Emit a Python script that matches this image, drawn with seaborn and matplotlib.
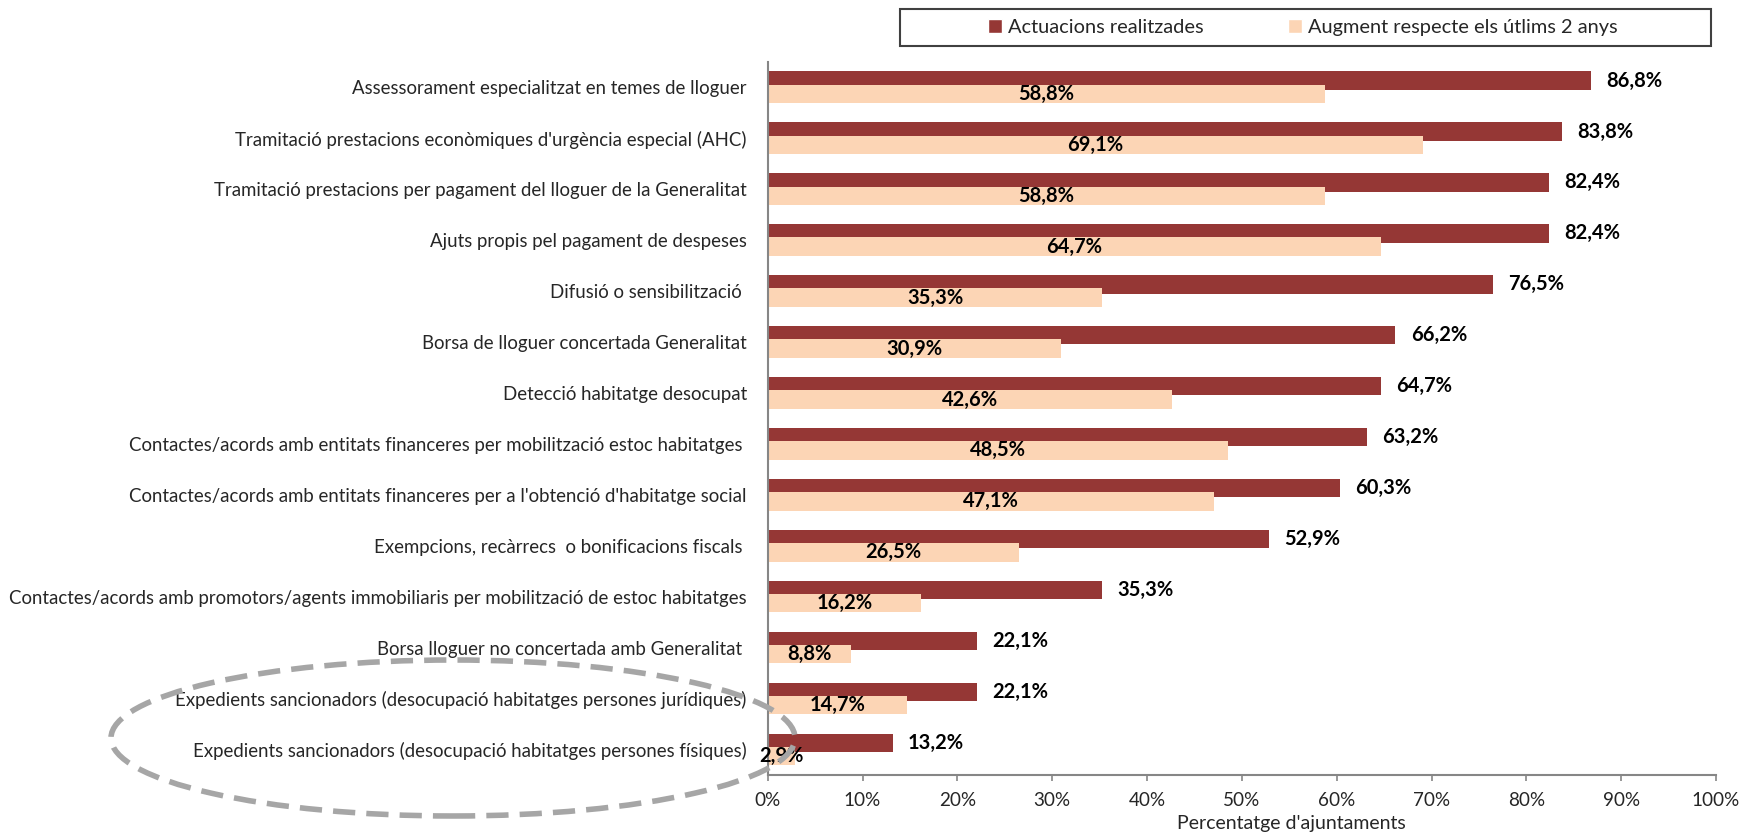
import numpy as np
import pandas as pd
import matplotlib.pyplot as plt
from matplotlib.patches import Ellipse, Rectangle
import seaborn as sns

# Data
categories = [
    "Assessorament especialitzat en temes de lloguer",
    "Tramitació prestacions econòmiques d'urgència especial (AHC)",
    "Tramitació prestacions per pagament del lloguer de la Generalitat",
    "Ajuts propis pel pagament de despeses",
    "Difusió o sensibilització ",
    "Borsa de lloguer concertada Generalitat",
    "Detecció habitatge desocupat",
    "Contactes/acords amb entitats financeres per mobilització estoc habitatges ",
    "Contactes/acords amb entitats financeres per a l'obtenció d'habitatge social",
    "Exempcions, recàrrecs  o bonificacions fiscals ",
    "Contactes/acords amb promotors/agents immobiliaris per mobilització de estoc habitatges",
    "Borsa lloguer no concertada amb Generalitat ",
    "Expedients sancionadors (desocupació habitatges persones jurídiques)",
    "Expedients sancionadors (desocupació habitatges persones físiques)",
]
actuacions = [86.8, 83.8, 82.4, 82.4, 76.5, 66.2, 64.7, 63.2, 60.3, 52.9, 35.3, 22.1, 22.1, 13.2]
augment = [58.8, 69.1, 58.8, 64.7, 35.3, 30.9, 42.6, 48.5, 47.1, 26.5, 16.2, 8.8, 14.7, 2.9]
series_names = ["Actuacions realitzades", "Augment respecte els útlims 2 anys"]
x_ticks = [0, 10, 20, 30, 40, 50, 60, 70, 80, 90, 100]

RED = "#953735"
PEACH = "#FCD5B5"
GRAY = "#868686"

df = pd.DataFrame({
    "cat": categories * 2,
    "val": actuacions + augment,
    "serie": [series_names[0]] * len(categories) + [series_names[1]] * len(categories),
})

sns.set_style("white")
plt.rcParams["font.family"] = ["Lato", "DejaVu Sans"]

W, H = 1741, 835
fig = plt.figure(figsize=(W / 100, H / 100), dpi=100)
ax = fig.add_axes([767.7 / W, 1 - 775 / H, (1716 - 767.7) / W, (775 - 61.7) / H])

sns.barplot(data=df, y="cat", x="val", hue="serie", orient="h",
            palette=[RED, PEACH], width=0.52, errorbar=None,
            saturation=1, ax=ax, order=categories, hue_order=series_names)

# overlap the two series slightly, like the original
for cont in ax.containers:
    for p in cont:
        c = p.get_y() + p.get_height() / 2
        p.set_height(0.36)
        p.set_y(c - 0.18)
        p.set_edgecolor("none")

fmt = lambda v: f"{v:.1f}%".replace(".", ",")
ax.bar_label(ax.containers[0], labels=[fmt(v) for v in actuacions],
             padding=11, fontsize=14.5, fontweight="bold", color="black")
ax.bar_label(ax.containers[1], labels=[fmt(v) for v in augment],
             label_type="center", fontsize=14.5, fontweight="bold", color="black")

handles, labels = ax.get_legend_handles_labels()
ax.get_legend().remove()

ax.set_xlim(0, 100)
ax.set_ylim(13.5, -0.5)
ax.set_xticks(x_ticks)
ax.set_xticklabels([f"{t}%" for t in x_ticks])
ax.set_xlabel("")
ax.set_ylabel("")
for s in ["top", "right"]:
    ax.spines[s].set_visible(False)
for s in ["left", "bottom"]:
    ax.spines[s].set_color(GRAY)
    ax.spines[s].set_linewidth(1.5)
ax.tick_params(axis="y", length=0, pad=15, labelsize=13.4)
ax.tick_params(axis="x", length=4, width=1.2, color=GRAY, pad=8, labelsize=13.6,
               bottom=True)

fig.text(1291 / W, 1 - 823 / H, "Percentatge d'ajuntaments", ha="center",
         va="center", fontsize=14)

# legend box
fig.patches.append(Rectangle((900 / W, 1 - 46 / H), 811 / W, 37 / H,
                             transform=fig.transFigure, fill=False,
                             edgecolor="#404040", linewidth=1.5))
fig.legend(handles, labels, loc="center left",
           bbox_to_anchor=(970 / W, 1 - 27.5 / H), ncol=2, frameon=False,
           fontsize=14.4, handlelength=0.7, handleheight=0.7,
           handletextpad=0.3, columnspacing=4.2)

# dashed highlight ellipse
fig.patches.append(Ellipse((453 / W, 1 - 738 / H), 684 / W, 156 / H,
                           transform=fig.transFigure, fill=False,
                           edgecolor="#A6A6A6", linewidth=4,
                           linestyle=(0, (4, 2)), zorder=10))

fig.savefig("out.png", dpi=100)
